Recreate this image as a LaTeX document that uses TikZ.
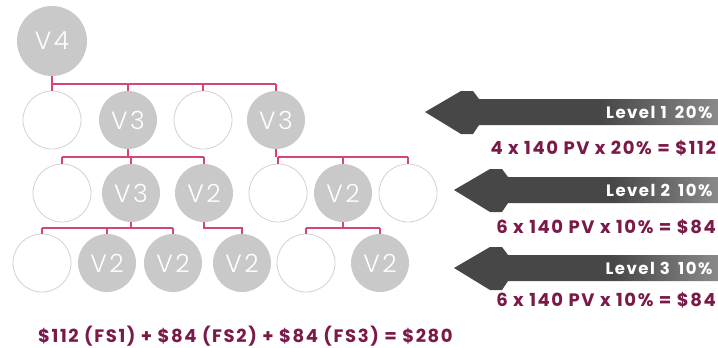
\documentclass[tikz,border=0pt]{standalone}
\usepackage{fontspec}
\usepackage{tikz}
\usetikzlibrary{positioning}
\setmainfont{Poppins}[LetterSpace=9]
\newfontfamily\thinfont{Poppins Light}[LetterSpace=10]

\definecolor{linkpink}{HTML}{D6457A}
\definecolor{bubble}{HTML}{C9C9C9}
\definecolor{rim}{HTML}{D2D2D2}
\definecolor{maroon}{HTML}{7A1A48}
\definecolor{arrowgray}{HTML}{474747}

\pgfdeclarehorizontalshading{arrowfade}{100bp}{color(0bp)=(arrowgray); color(55bp)=(arrowgray); color(100bp)=(arrowgray!18)}

\begin{document}
\begin{tikzpicture}[x=1pt,y=-1pt,on grid,node distance=70pt,
    empty/.style={circle,draw=rim,line width=0.8pt,fill=white,minimum size=58pt,inner sep=0pt},
    vip/.style={circle,fill=bubble,text=white,minimum size=58pt,inner sep=0pt,font=\thinfont\fontsize{25}{25}\selectfont},
    link/.style={draw=linkpink,line width=1.6pt},
    level/.style={anchor=east,text=white,font=\bfseries\fontsize{16.5}{16.5}\selectfont},
    sum/.style={text=maroon,inner sep=1pt,font=\bfseries\fontsize{18}{18}\selectfont}]
\useasboundingbox (0,0) rectangle (718,348);

% the tree
\node[vip,minimum size=70pt] (v4) at (52,41) {V4};

\node[empty] (a1) at (52,120) {};
\node[vip,right=76pt of a1] (a2) {V3};
\node[empty,right=75pt of a2] (a3) {};
\node[vip,right=73pt of a3] (a4) {V3};

\node[empty] (b1) at (62,193) {};
\node[vip,right=69pt of b1] (b2) {V3};
\node[vip,right=73pt of b2] (b3) {V2};
\node[empty,right=74pt of b3] (b4) {};
\node[vip,right=65pt of b4] (b5) {V2};
\node[empty,right=65pt of b5] (b6) {};

\node[empty] (c1) at (42,263) {};
\node[vip,right=65pt of c1] (c2) {V2};
\node[vip,right=66pt of c2] (c3) {V2};
\node[vip,right=69pt of c3] (c4) {V2};
\node[empty,right=64pt of c4] (c5) {};
\node[vip,right=74pt of c5] (c6) {V2};

% connectors
\coordinate (bus1) at (0,84);
\coordinate (bus2) at (0,157);
\coordinate (bus3) at (0,228);
\draw[link] (v4.south) -- (v4 |- bus1);
\draw[link] (a1 |- bus1) -- (a4 |- bus1);
\foreach \n in {a1,a2,a3,a4} \draw[link] (\n |- bus1) -- (\n.north);

\draw[link] (a2.south) -- (a2 |- bus2);
\draw[link] (b1 |- bus2) -- (b3 |- bus2);
\foreach \n in {b1,b2,b3} \draw[link] (\n |- bus2) -- (\n.north);
\draw[link] (a4.south) -- (a4 |- bus2);
\draw[link] (b4 |- bus2) -- (b6 |- bus2);
\foreach \n in {b4,b5,b6} \draw[link] (\n |- bus2) -- (\n.north);

\draw[link] (b2.south) -- (b2 |- bus3);
\draw[link] (c1 |- bus3) -- (c3 |- bus3);
\foreach \n in {c1,c2,c3} \draw[link] (\n |- bus3) -- (\n.north);
\draw[link] (b3.south) -- (b3 |- bus3) -| (c4.north);
\draw[link] (b5.south) -- (b5 |- bus3);
\draw[link] (c5 |- bus3) -- (c6 |- bus3);
\foreach \n in {c5,c6} \draw[link] (\n |- bus3) -- (\n.north);

% arrows
\foreach \tx/\ty/\lv/\pc in {425/112/1/20, 454/190/2/10, 454/268/3/10}{
  \shade[shading=arrowfade] (\tx,\ty) -- ++(36,-21) -- ++(12,0) -- ++(6,8)
      -- (718,\ty-13) -- (718,\ty+13) -- (\tx+54,\ty+13) -- ++(-6,9) -- ++(-12,0) -- cycle;
  \node[level] (lv\lv) at (716,\ty) {Level \lv\enspace\pc\%};
}

% sums
\node[sum,anchor=east] (s1) at (717,148) {4 x 140 PV x 20\% = \$112};
\node[sum,anchor=east] (s2) at (717,227) {6 x 140 PV x 10\% = \$84};
\node[sum,anchor=east] (s3) at (717,300) {6 x 140 PV x 10\% = \$84};
\node[sum,anchor=west] (total) at (37,336) {\$112 (FS1) + \$84 (FS2) + \$84 (FS3) = \$280};
\end{tikzpicture}
\end{document}
